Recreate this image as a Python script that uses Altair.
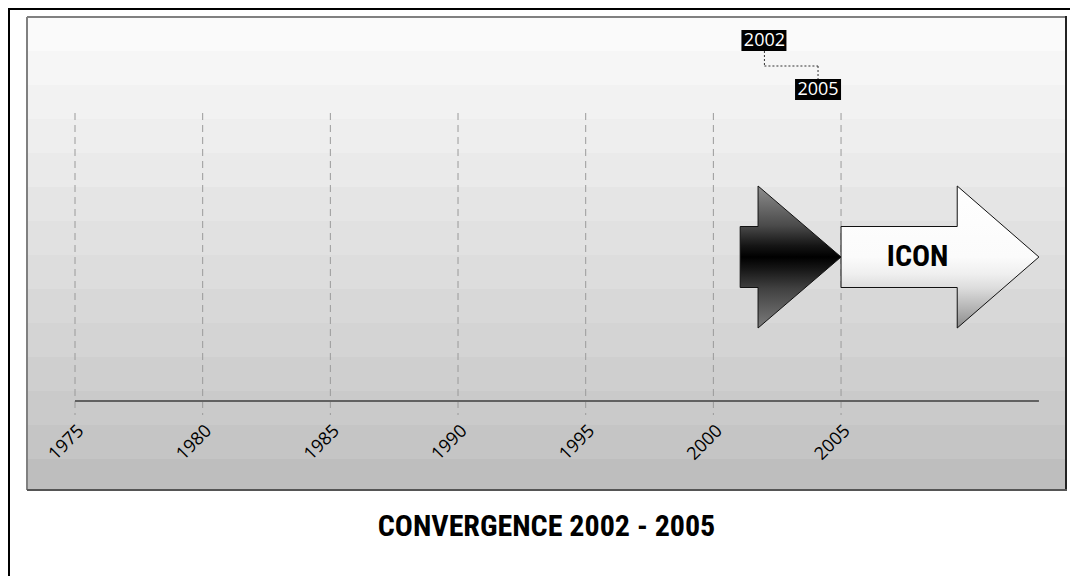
import altair as alt
import pandas as pd

# ---------------- data ----------------
years = [1975, 1980, 1985, 1990, 1995, 2000, 2005]
year_labels = ["1975", "1980", "1985", "1990", "1995", "2000", "2005"]

# arrow outlines: time position, upper edge, lower edge (offset from centre line)
dark_x = [2001.05, 2001.75, 2001.75, 2005.0]
dark_top = [30.5, 30.5, 71, 0]
dark_bot = [-30.5, -30.5, -71, 0]

icon_x = [2005.0, 2009.55, 2009.55, 2012.75]
icon_top = [30.5, 30.5, 71, 0]
icon_bot = [-30.5, -30.5, -71, 0]

icon_label = ["ICON"]
icon_label_x = [2008.0]

marker_from = [2002]
marker_to = [2005]
marker_labels = ["2002", "2005"]

axis_span = [1975, 2012.75]
title_text = "CONVERGENCE 2002 - 2005"

# ---------------- layout / style ----------------
W, H = 1039, 473
NARROW = "Liberation Sans Narrow, Arial Narrow, Roboto Condensed, DejaVu Sans Condensed, sans-serif"
REG = "Open Sans, Noto Sans, sans-serif"

xs = alt.Scale(domain=[1973.12, 2013.81], nice=False, zero=False)
ys = alt.Scale(domain=[-233, 240], nice=False, zero=False)

# posterised grey background (14 bands of 34px)
band_grey = [250, 246, 242, 238, 234, 229, 225, 221, 216, 212, 207, 202, 197, 190]
stops = []
for i, g in enumerate(band_grey):
    c = "#%02x%02x%02x" % (g, g, g)
    o0 = min(1.0, i * 34 / H)
    o1 = min(1.0, (i + 1) * 34 / H)
    stops.append(alt.GradientStop(color=c, offset=o0))
    stops.append(alt.GradientStop(color=c, offset=o1))
bg_grad = alt.LinearGradient(gradient="linear", stops=stops, x1=0, x2=0, y1=0, y2=1)

dark_grad = alt.LinearGradient(
    gradient="linear", x1=0, x2=0, y1=0, y2=1,
    stops=[
        alt.GradientStop(color="#8e8e8e", offset=0),
        alt.GradientStop(color="#4a4a4a", offset=0.28),
        alt.GradientStop(color="#151515", offset=0.42),
        alt.GradientStop(color="#000000", offset=0.5),
        alt.GradientStop(color="#151515", offset=0.58),
        alt.GradientStop(color="#404040", offset=0.72),
        alt.GradientStop(color="#7c7c7c", offset=1),
    ],
)
icon_grad = alt.LinearGradient(
    gradient="linear", x1=0, x2=0, y1=0, y2=1,
    stops=[
        alt.GradientStop(color="#ffffff", offset=0),
        alt.GradientStop(color="#fbfbfb", offset=0.5),
        alt.GradientStop(color="#efefef", offset=0.62),
        alt.GradientStop(color="#dcdcdc", offset=0.72),
        alt.GradientStop(color="#b5b5b5", offset=0.86),
        alt.GradientStop(color="#8a8a8a", offset=1),
    ],
)

one = pd.DataFrame({"k": [0]})
df_years = pd.DataFrame({"year": years, "label": year_labels})
df_axis = pd.DataFrame({"start": [axis_span[0]], "end": [axis_span[1]]})
df_dark = pd.DataFrame({"x": dark_x, "top": dark_top, "bot": dark_bot})
df_icon = pd.DataFrame({"x": icon_x, "top": icon_top, "bot": icon_bot})
df_iconlab = pd.DataFrame({"x": icon_label_x, "y": [0], "t": icon_label})
df_m1 = pd.DataFrame({"year": marker_from, "label": [marker_labels[0]]})
df_m2 = pd.DataFrame({"year": marker_to, "label": [marker_labels[1]]})
df_conn = pd.DataFrame({"a": marker_from, "b": marker_to})
df_title = pd.DataFrame({"t": [title_text]})

X = lambda f: alt.X(f, scale=xs, axis=None)

background = alt.Chart(one).mark_rect(fill=bg_grad, strokeWidth=0).encode(
    x=alt.value(0), x2=alt.value(W), y=alt.value(0), y2=alt.value(H)
)

frame_left = alt.Chart(one).mark_rule(color="black", strokeWidth=2).encode(
    x=alt.value(-18), y=alt.value(-9), y2=alt.value(H + 120)
)
frame_top = alt.Chart(one).mark_rule(color="black", strokeWidth=2).encode(
    x=alt.value(-19), x2=alt.value(W + 6), y=alt.value(-8)
)

box_top = alt.Chart(one).mark_rule(color="#808080", strokeWidth=2).encode(
    x=alt.value(0), x2=alt.value(W), y=alt.value(0)
)
box_left = alt.Chart(one).mark_rule(color="#808080", strokeWidth=2).encode(
    x=alt.value(0), y=alt.value(0), y2=alt.value(H)
)
box_right = alt.Chart(one).mark_rule(color="#222222", strokeWidth=2).encode(
    x=alt.value(W), y=alt.value(-1), y2=alt.value(H + 1)
)
box_bottom = alt.Chart(one).mark_rule(color="#555555", strokeWidth=2).encode(
    x=alt.value(0), x2=alt.value(W + 1), y=alt.value(H)
)

grid = alt.Chart(df_years).mark_rule(color="#9a9a9a", strokeWidth=1, strokeDash=[7, 5]).encode(
    x=X("year:Q"), y=alt.value(96), y2=alt.value(398)
)

axis_line = alt.Chart(df_axis).mark_rule(color="#616161", strokeWidth=2).encode(
    x=X("start:Q"), x2="end:Q", y=alt.value(384)
)

labels = alt.Chart(df_years).mark_text(
    angle=315, align="right", baseline="top", font=REG, fontSize=18, color="black"
).encode(x=X("year:Q"), y=alt.value(405), text="label:N")

dark_arrow = alt.Chart(df_dark).mark_area(
    fill=dark_grad, stroke="#111111", strokeWidth=1, interpolate="linear"
).encode(x=X("x:Q"), y=alt.Y("top:Q", scale=ys, axis=None), y2="bot:Q")

icon_arrow = alt.Chart(df_icon).mark_area(
    fill=icon_grad, stroke="#111111", strokeWidth=1, interpolate="linear"
).encode(x=X("x:Q"), y=alt.Y("top:Q", scale=ys, axis=None), y2="bot:Q")

icon_text = alt.Chart(df_iconlab).mark_text(
    font=NARROW, fontWeight="bold", fontSize=30, color="black", align="center", baseline="middle"
).encode(x=X("x:Q"), y=alt.Y("y:Q", scale=ys, axis=None), text="t:N")

m1_box = alt.Chart(df_m1).mark_rect(color="black", xOffset=-23, x2Offset=22).encode(
    x=X("year:Q"), x2="year:Q", y=alt.value(13), y2=alt.value(34)
)
m1_text = alt.Chart(df_m1).mark_text(
    font=REG, fontSize=18, color="white", align="center", baseline="middle"
).encode(x=X("year:Q"), y=alt.value(23.5), text="label:N")

m2_box = alt.Chart(df_m2).mark_rect(color="black", xOffset=-46, x2Offset=0).encode(
    x=X("year:Q"), x2="year:Q", y=alt.value(62), y2=alt.value(83)
)
m2_text = alt.Chart(df_m2).mark_text(
    font=REG, fontSize=18, color="white", align="center", baseline="middle", xOffset=-23
).encode(x=X("year:Q"), y=alt.value(72.5), text="label:N")

conn_style = dict(color="#333333", strokeWidth=1, strokeDash=[2, 2])
conn1 = alt.Chart(df_conn).mark_rule(**conn_style).encode(
    x=X("a:Q"), y=alt.value(34), y2=alt.value(49)
)
conn2 = alt.Chart(df_conn).mark_rule(x2Offset=-23, **conn_style).encode(
    x=X("a:Q"), x2="b:Q", y=alt.value(49)
)
conn3 = alt.Chart(df_conn).mark_rule(xOffset=-23, **conn_style).encode(
    x=X("b:Q"), y=alt.value(49), y2=alt.value(62)
)

title = alt.Chart(df_title).mark_text(
    font=NARROW, fontWeight="bold", fontSize=30, color="black", align="center", baseline="alphabetic"
).encode(x=alt.value(W / 2), y=alt.value(519), text="t:N")

chart = alt.layer(
    background, grid, axis_line, labels, dark_arrow, icon_arrow, icon_text,
    conn1, conn2, conn3, m1_box, m1_text, m2_box, m2_text,
    box_top, box_left, box_right, box_bottom, frame_left, frame_top, title,
).properties(
    width=W, height=H,
    autosize=alt.AutoSizeParams(type="none"),
    padding={"left": 19, "top": 9, "right": 4, "bottom": 86},
).configure_view(strokeWidth=0)

chart.save("out.html", embed_options={"renderer": "svg", "actions": False})
